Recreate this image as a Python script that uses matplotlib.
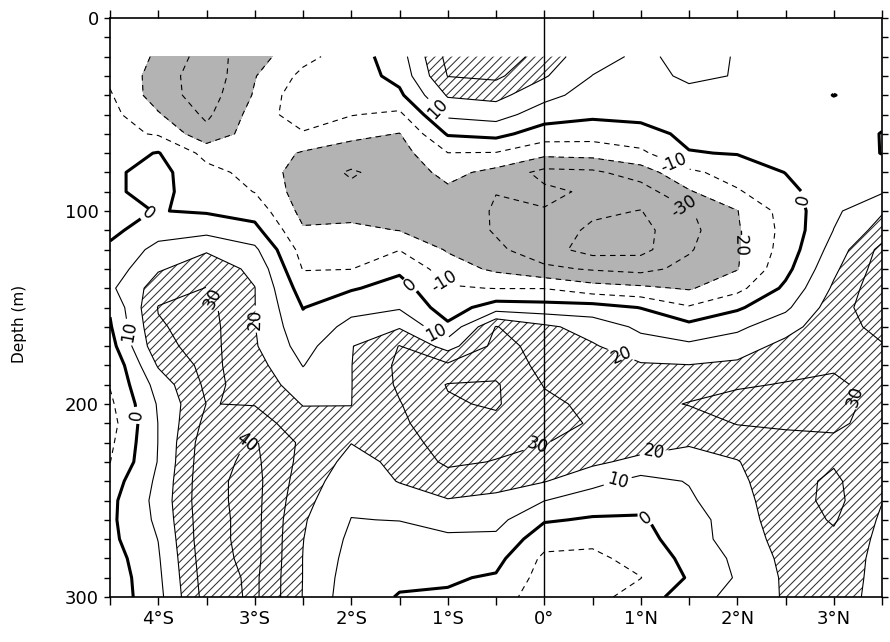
import matplotlib
matplotlib.use("Agg")
import matplotlib.pyplot as plt
import numpy as np

plt.rcParams["font.family"] = ["DejaVu Sans"]
plt.rcParams["hatch.linewidth"] = 0.75
plt.rcParams["hatch.color"] = "#303030"
plt.rcParams["axes.unicode_minus"] = False

# grid of the section: latitude (deg, negative = south) and depth (m)
lats = [-4.5, -4.0, -3.5, -3.0, -2.5, -2.0, -1.5, -1.0, -0.5,
        0.0, 0.5, 1.0, 1.5, 2.0, 2.5, 3.0, 3.5]
depths = [20, 30, 40, 50, 60, 70, 80, 90, 100, 110, 120, 130, 140, 150,
          160, 170, 180, 190, 200, 210, 220, 230, 240, 250, 260, 270, 280, 290, 300]

# one depth profile per latitude (depth 20 -> 300)
u_45S = [-15, -12, -9, -7, -7, -4, -1.5, -1, -2, -2.5, 2, 4, 8, 1, -1, -4, -9, -9.5,
         -12, -14, -12, -10.2, -5, -2.5, -2, -2.5, -5, -6.5, -6.5]
u_40S = [-21, -24, -25, -19, -11, 0.5, 3, 2, 0.3, 6, 13, 19, 25, 30.5, 29, 27, 21, 14,
         11, 10.2, 10.2, 10.5, 12, 13, 12, 10.2, 9, 8, 7]
u_35S = [-35, -37, -35, -32, -27, -13, -7, -4, -1, 7, 19, 25, 30.3, 33, 34, 34, 33, 32,
         30.2, 33, 36, 37, 37.5, 37.5, 37, 37, 36, 35, 34]
u_30S = [-24, -20.5, -19, -16, -15, -14, -13, -10.3, -4, 3, 12, 18, 20.2, 20.2, 20.3, 21,
         24, 27, 29.5, 35, 41, 42, 43, 43, 43, 43, 43, 42, 42]
u_25S = [-13, -7.5, -3, -4, -11, -21, -25, -25, -23, -19, -14, -10.5, -5, -0.3, 3, 6, 9.7,
         14, 19.5, 24, 28, 27, 25, 23, 21, 20.2, 19.8, 19.8, 19.6]
u_20S = [-5, -5, -6, -9.5, -17, -25, -31, -28, -23, -18, -13, -10.2, -1, 7, 13, 19.5, 19.8,
         19.8, 19.9, 21, 20.2, 17, 14, 11.5, 9.8, 8, 6.5, 5, 4]
u_15S = [5.5, 3, -2, -12, -20.3, -24, -26, -26, -24, -20.2, -10.3, -2, 4, 9, 19, 30.3, 32,
         31.5, 29.5, 28, 25, 22, 20.5, 15, 10.2, 7, 4.5, 1.5, -0.5]
u_10S = [33, 30.3, 21, 12, 1, -10.2, -17, -22, -24, -23, -21, -15, -9, -5, 2, 16, 32, 40.5,
         39, 37, 35, 32, 25, 19.5, 14, 8, 4, 1, -1]
u_05S = [38, 32, 23, 14, 3, -10.5, -23, -29.8, -31, -31, -28, -22, -10.3, 5, 30.5, 33, 36,
         41, 41, 38, 33, 29.5, 23, 18, 13, 8, 3, -1, -4]
u_00 = [25, 21, 13, 5, -5, -17, -33, -28, -30.5, -34, -36, -28, -10.3, 4, 22, 27, 27.5,
        29.5, 32, 32, 30.3, 25, 20.5, 10.2, 1, -6, -12, -14, -17]
u_05N = [14, 9.8, 6, 2, -6, -16, -32, -31.5, -38, -42, -44, -31, -16, 4, 16, 21, 24, 26,
         28, 29.5, 27, 22, 13, 5, -1, -8, -12, -13.5, -13]
u_10N = [8, 6, 4, 3, -4, -12, -25, -35, -40.3, -43, -43, -33, -18, -0.3, 8, 14, 21, 25,
         27, 26, 25, 17, 7, 3, -1, -4, -7, -10.2, -6]
u_15N = [13, 12, 7, 5, 2.5, -0.5, -12, -21, -31, -33, -31, -27, -21, -9, 3, 12, 20.3, 26,
         30.5, 25, 21, 16, 10.5, 8.5, 5, 6, 3, 1, 6]
u_20N = [9.5, 9.5, 7, 5, 3, 0.5, -6, -11, -20.3, -21, -21, -20.5, -13, -1.5, 8, 15, 22, 29,
         33, 30.5, 24, 19.5, 18, 17, 16, 14, 12, 11, 13]
u_25N = [5, 4, 3, 2.5, 2, 1, 0.2, -3, -6, -7, -6, -3, 2, 8, 16, 23, 27, 30.5, 33, 31, 28,
         27, 26, 25, 24.5, 24, 22.5, 21.5, 21]
u_30N = [3, 2, -0.1, 2, 3, 4, 5, 6, 8, 10.2, 14, 18, 21.5, 25, 27, 27, 29, 31.5, 34, 32, 28,
         29, 32, 33, 31, 28, 26, 25, 24]
u_35N = [3, 2.5, 2, 1.5, -0.2, -0.2, 3, 9, 19, 24, 33, 35, 37, 37, 32, 29.5, 28, 27, 26, 26,
         25, 23, 21, 20.3, 18.5, 17.5, 17, 17, 17]

LEVELS = [-40, -30, -20, -10, 0, 10, 20, 30, 40]

x_ticks = [-4, -3, -2, -1, 0, 1, 2, 3]
x_labels = ["4°S", "3°S", "2°S", "1°S", "0°", "1°N", "2°N", "3°N"]
x_minor = [-4.5, -3.5, -2.5, -1.5, -0.5, 0.5, 1.5, 2.5, 3.5]
y_ticks = [0, 100, 200, 300]

# where the contour labels sit (lat, depth)
label_spots = [(-4.08, 103), (-1.1, 47), (-1.36, 137), (-1.05, 137), (1.34, 75),
               (1.44, 98), (2.68, 94), (1.96, 116), (-4.33, 163), (-3.42, 145),
               (-2.97, 156), (-4.24, 206), (-3.11, 217), (-1.11, 162), (-0.07, 222),
               (0.8, 174), (3.29, 195), (1.13, 223), (0.75, 238), (1.04, 260)]

Z = np.column_stack([u_45S, u_40S, u_35S, u_30S, u_25S, u_20S, u_15S, u_10S, u_05S,
                     u_00, u_05N, u_10N, u_15N, u_20N, u_25N, u_30N, u_35N])

fig = plt.figure(figsize=(8.9, 6.42), dpi=100)
ax = fig.add_axes([110 / 890, 45 / 642, 772 / 890, 579 / 642])

ax.contourf(lats, depths, Z, levels=[-100, -20], colors=["#b3b3b3"])
ax.contourf(lats, depths, Z, levels=[20, 100], colors="none", hatches=["////"])

lws = [2.2 if lev == 0 else 0.8 for lev in LEVELS]
lss = [(0, (5, 4)) if lev < 0 else "solid" for lev in LEVELS]
cs = ax.contour(lats, depths, Z, levels=LEVELS, colors="k",
                linewidths=lws, linestyles=lss)
ax.clabel(cs, fmt=lambda v: "%d" % v, fontsize=12, inline=True,
          inline_spacing=4, manual=label_spots)

ax.axvline(0, color="k", lw=1.0)

ax.set_xlim(-4.5, 3.5)
ax.set_ylim(300, 0)
ax.set_xticks(x_ticks)
ax.set_xticklabels(x_labels)
ax.set_xticks(x_minor, minor=True)
ax.set_yticks(y_ticks)
ax.set_yticks(list(range(0, 301, 10)), minor=True)
ax.tick_params(axis="x", which="both", direction="out", top=True, bottom=True,
               length=5.5, width=1.0, labelsize=13, pad=4)
ax.tick_params(axis="y", which="both", direction="out", left=True, right=True,
               length=4, width=1.0, labelsize=13, pad=4)
for sp in ax.spines.values():
    sp.set_linewidth(1.2)

ax.set_ylabel("Depth (m)", fontsize=11)
ax.yaxis.set_label_coords(-0.1075, 0.4715)

fig.savefig("out.png", dpi=100)
